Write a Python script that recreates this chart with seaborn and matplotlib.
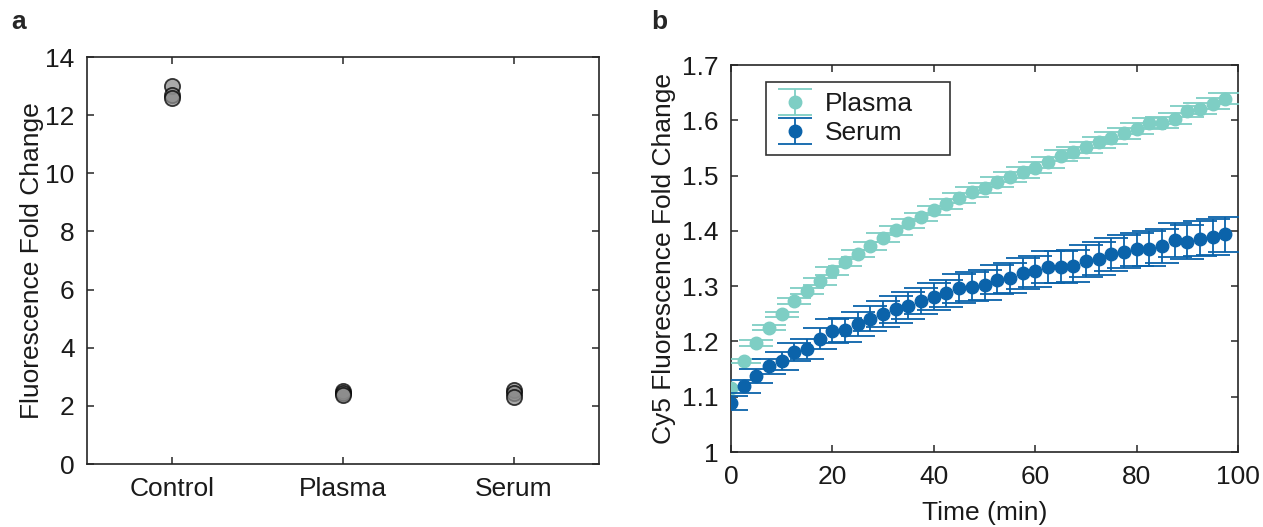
import numpy as np
import pandas as pd
import matplotlib
matplotlib.use("Agg")
import matplotlib.pyplot as plt
import seaborn as sns

# ---------------- data ----------------
groups = ["Control", "Control", "Control", "Plasma", "Plasma", "Plasma", "Serum", "Serum", "Serum"]
fold_change = [13.0, 12.7, 12.6, 2.5, 2.44, 2.38, 2.55, 2.45, 2.32]
group_order = ["Control", "Plasma", "Serum"]

time_min = [0, 2.5, 5, 7.5, 10, 12.5, 15, 17.5, 20, 22.5, 25, 27.5, 30, 32.5, 35, 37.5,
            40, 42.5, 45, 47.5, 50, 52.5, 55, 57.5, 60, 62.5, 65, 67.5, 70, 72.5, 75, 77.5,
            80, 82.5, 85, 87.5, 90, 92.5, 95, 97.5]
plasma_mean = [1.116, 1.165, 1.197, 1.225, 1.249, 1.273, 1.291, 1.309, 1.327, 1.343,
               1.359, 1.372, 1.388, 1.401, 1.414, 1.425, 1.437, 1.449, 1.459, 1.470,
               1.478, 1.488, 1.497, 1.506, 1.514, 1.524, 1.536, 1.542, 1.551, 1.560,
               1.568, 1.577, 1.585, 1.595, 1.596, 1.603, 1.616, 1.621, 1.630, 1.639]
plasma_err = [0.004, 0.004, 0.005, 0.005, 0.005, 0.006, 0.006, 0.006, 0.007, 0.007,
              0.007, 0.007, 0.008, 0.008, 0.008, 0.008, 0.008, 0.009, 0.009, 0.009,
              0.009, 0.009, 0.009, 0.010, 0.010, 0.010, 0.010, 0.010, 0.010, 0.010,
              0.010, 0.010, 0.010, 0.010, 0.010, 0.010, 0.010, 0.010, 0.010, 0.010]
serum_mean = [1.089, 1.119, 1.137, 1.155, 1.164, 1.181, 1.186, 1.205, 1.219, 1.221,
              1.232, 1.241, 1.250, 1.258, 1.265, 1.273, 1.281, 1.287, 1.296, 1.299,
              1.302, 1.312, 1.315, 1.323, 1.327, 1.335, 1.334, 1.336, 1.345, 1.350,
              1.358, 1.362, 1.367, 1.368, 1.372, 1.383, 1.380, 1.386, 1.389, 1.394]
serum_err = [0.013, 0.012, 0.013, 0.014, 0.016, 0.017, 0.018, 0.019, 0.021, 0.022,
             0.022, 0.023, 0.023, 0.024, 0.024, 0.024, 0.025, 0.025, 0.026, 0.026,
             0.027, 0.027, 0.027, 0.028, 0.028, 0.029, 0.029, 0.029, 0.029, 0.030,
             0.030, 0.030, 0.030, 0.031, 0.031, 0.031, 0.031, 0.031, 0.032, 0.032]

# ---------------- style ----------------
sns.set_theme(style="white")
plt.rcParams["font.family"] = ["Liberation Sans", "DejaVu Sans"]
FS = 19
axis_color = "#262626"
text_color = "#1a1a1a"
plasma_color = "#7ECEC4"
serum_color = "#0B63AA"

fig = plt.figure(figsize=(12.63, 5.27), dpi=100)
ax_a = fig.add_axes([0.0689, 0.1195, 0.4054, 0.7723])
ax_b = fig.add_axes([0.5788, 0.1423, 0.4014, 0.7343])

# ---------------- panel a ----------------
df_a = pd.DataFrame({"group": groups, "fold": fold_change})
df_a["pos"] = df_a["group"].map({g: i + 1 for i, g in enumerate(group_order)})
sns.scatterplot(data=df_a, x="pos", y="fold", ax=ax_a, s=120,
                color="#8C8C8C", alpha=0.75, edgecolor="black", linewidth=1.3,
                legend=False, zorder=3)
ax_a.set_xlim(0.5, 3.5)
ax_a.set_ylim(0, 14)
ax_a.set_xticks([1, 2, 3])
ax_a.set_xticklabels(group_order)
ax_a.set_yticks(np.arange(0, 15, 2))
ax_a.set_xlabel("")
ax_a.set_ylabel("Fluorescence Fold Change", fontsize=FS, color=text_color, labelpad=1)

# ---------------- panel b ----------------
ax_b.errorbar(time_min, plasma_mean, yerr=plasma_err, fmt="o", color=plasma_color,
              ecolor=plasma_color, markersize=9, capsize=12, elinewidth=1.3,
              capthick=1.3, label="Plasma", zorder=3)
ax_b.errorbar(time_min, serum_mean, yerr=serum_err, fmt="o", color=serum_color,
              ecolor=serum_color, markersize=9, capsize=12, elinewidth=1.3,
              capthick=1.3, label="Serum", zorder=4)
ax_b.set_xlim(0, 100)
ax_b.set_ylim(1, 1.7)
ax_b.set_xticks(np.arange(0, 101, 20))
ax_b.set_yticks(np.round(np.arange(1.0, 1.71, 0.1), 1))
ax_b.set_yticklabels(["1", "1.1", "1.2", "1.3", "1.4", "1.5", "1.6", "1.7"])
ax_b.set_xlabel("Time (min)", fontsize=FS, color=text_color, labelpad=9)
ax_b.set_ylabel("Cy5 Fluorescence Fold Change", fontsize=FS, color=text_color, labelpad=4)
leg = ax_b.legend(loc="upper left", bbox_to_anchor=(0.069, 0.956, 0.363, 0.0),
                  mode="expand", borderaxespad=0,
                  fontsize=FS, frameon=True, fancybox=False, edgecolor="black",
                  handlelength=1.4, handletextpad=0.45, borderpad=0.38,
                  labelspacing=0.2)
leg.get_frame().set_linewidth(1.2)
for t in leg.get_texts():
    t.set_color(text_color)

for ax in (ax_a, ax_b):
    for sp in ax.spines.values():
        sp.set_visible(True)
        sp.set_color(axis_color)
        sp.set_linewidth(1.2)
    ax.tick_params(axis="both", which="both", direction="in", top=True, right=True,
                   bottom=True, left=True, length=5, width=1.1, color=axis_color,
                   labelsize=FS, labelcolor=text_color, pad=9)
    ax.grid(False)

fig.text(0.009, 0.945, "a", fontsize=FS, fontweight="bold")
fig.text(0.516, 0.945, "b", fontsize=FS, fontweight="bold")

fig.savefig("out.png", dpi=100)
